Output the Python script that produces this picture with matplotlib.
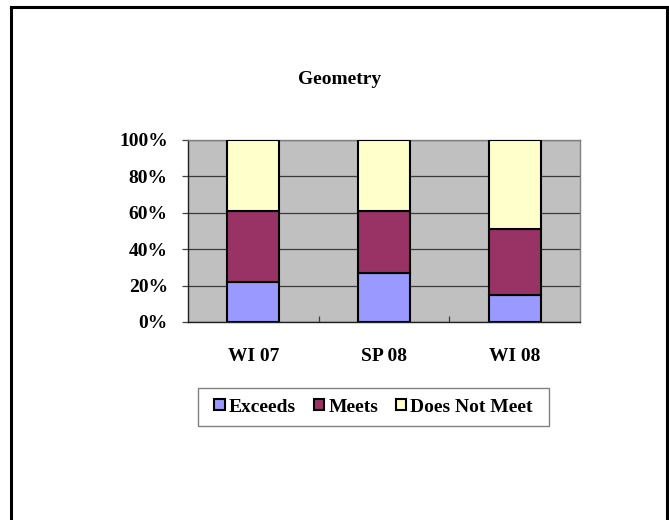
import matplotlib
matplotlib.use("Agg")
import matplotlib.pyplot as plt
from matplotlib.patches import Patch, Rectangle
from matplotlib.lines import Line2D
import numpy as np

categories = ["WI 07", "SP 08", "WI 08"]
exceeds = [22, 27, 15]
meets = [39, 34, 36]
does_not_meet = [39, 39, 49]
series_names = ["Exceeds", "Meets", "Does Not Meet"]
colors = ["#9999FF", "#993366", "#FFFFCC"]
yticks = [0, 20, 40, 60, 80, 100]
ytick_labels = ["0%", "20%", "40%", "60%", "80%", "100%"]

plt.rcParams['font.family'] = ['Liberation Serif', 'DejaVu Serif']
plt.rcParams['font.weight'] = 'bold'
FS = 14

W, H = 669, 520
fig = plt.figure(figsize=(W / 100, H / 100), dpi=100)
ax = fig.add_axes([188 / W, (H - 322) / H, (580 - 188) / W, (322 - 140) / H])
ax.set_facecolor("#C0C0C0")

x = np.arange(len(categories))
bottoms = np.zeros(len(categories))
for vals, c, name in zip([exceeds, meets, does_not_meet], colors, series_names):
    ax.bar(x, vals, width=0.4, bottom=bottoms, color=c, edgecolor="black",
           linewidth=1.5, label=name, zorder=3)
    bottoms += np.array(vals)

ax.set_xlim(-0.5, len(categories) - 0.5)
ax.set_ylim(0, 100)
ax.set_yticks(yticks)
ax.set_yticklabels(ytick_labels, fontsize=FS, fontweight='bold')
ax.yaxis.grid(True, color="#3a3a3a", linewidth=0.9, zorder=1)
ax.set_axisbelow(True)
ax.tick_params(axis='y', direction='out', length=4.5, width=0.9, color="#404040", pad=10)

ax.set_xticks(x)
ax.set_xticklabels(categories, fontsize=FS, fontweight='bold')
ax.tick_params(axis='x', which='major', length=0, pad=18.5)
ax.set_xticks(np.arange(0.5, len(categories) - 0.5, 1.0), minor=True)
ax.tick_params(axis='x', which='minor', direction='in', length=4, width=0.9, color="#404040")

for s in ["left", "bottom"]:
    ax.spines[s].set_color("#202020")
    ax.spines[s].set_linewidth(1.0)
for s in ["top", "right"]:
    ax.spines[s].set_color("#808080")
    ax.spines[s].set_linewidth(1.0)

fig.text(340 / W, (H - 80) / H, "Geometry", ha="center", va="center",
         fontsize=FS, fontweight="bold")

handles = [Patch(facecolor=c, edgecolor="black", linewidth=1.5) for c in colors]
leg = fig.legend(handles, series_names, loc="center",
                 bbox_to_anchor=(373.5 / W, (H - 407) / H), ncol=3, frameon=False,
                 prop={'size': FS, 'weight': 'bold'}, handlelength=0.55, handleheight=0.55,
                 handletextpad=0.2, columnspacing=0.9)

fig.patches.append(Rectangle((198 / W, (H - 426) / H), (549 - 198) / W, (426 - 388) / H,
                             transform=fig.transFigure, facecolor="none",
                             edgecolor="#808080", linewidth=1.0))

# outer frame (open at the bottom)
lw = 2.2
fig.add_artist(Line2D([11 / W, 11 / W], [0, (H - 7) / H], color="black", linewidth=lw,
                      transform=fig.transFigure))
fig.add_artist(Line2D([11 / W, 666.5 / W], [(H - 7) / H, (H - 7) / H], color="black",
                      linewidth=lw, transform=fig.transFigure))
fig.add_artist(Line2D([666.5 / W, 666.5 / W], [0, (H - 7) / H], color="black", linewidth=lw,
                      transform=fig.transFigure))

fig.savefig("out.png", dpi=100, facecolor="white")
